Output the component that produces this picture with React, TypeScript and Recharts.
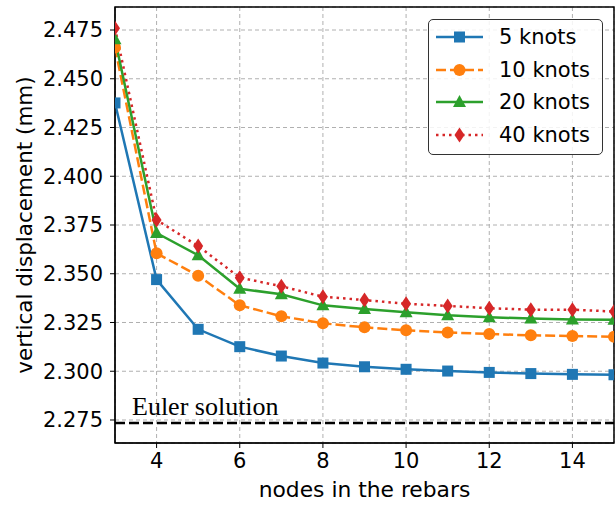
import React from "react";
import {
  LineChart,
  Line,
  XAxis,
  YAxis,
  CartesianGrid,
  ReferenceLine,
  ReferenceArea,
} from "recharts";

const nodes = [3, 4, 5, 6, 7, 8, 9, 10, 11, 12, 13, 14, 15];
const knots5 = [2.4376, 2.347, 2.3215, 2.3126, 2.3078, 2.3042, 2.3023, 2.301, 2.3001, 2.2994, 2.2988, 2.2984, 2.2982];
const knots10 = [2.466, 2.3605, 2.349, 2.3338, 2.3282, 2.3246, 2.3225, 2.321, 2.3199, 2.3191, 2.3184, 2.3181, 2.3177];
const knots20 = [2.4702, 2.3709, 2.3595, 2.3423, 2.3395, 2.3338, 2.3319, 2.3302, 2.3287, 2.3277, 2.327, 2.3266, 2.3264];
const knots40 = [2.4759, 2.3776, 2.3642, 2.348, 2.3436, 2.3382, 2.3365, 2.3346, 2.3335, 2.3323, 2.3316, 2.3316, 2.3306];
const eulerValue = 2.2735;

const xTicks = [4, 6, 8, 10, 12, 14];
const yTicks = [2.275, 2.3, 2.325, 2.35, 2.375, 2.4, 2.425, 2.45, 2.475];
const Y_MIN = 2.2632;
const Y_MAX = 2.4868;

const data = nodes.map((n, i) => ({
  n,
  k5: knots5[i],
  k10: knots10[i],
  k20: knots20[i],
  k40: knots40[i],
}));

const FONT = "'DejaVu Sans', sans-serif";

type Marker = "square" | "circle" | "triangle" | "diamond";

const SERIES = [
  { key: "k5", name: "5 knots", color: "#1f77b4", dash: undefined, marker: "square" as Marker },
  { key: "k10", name: "10 knots", color: "#ff7f0e", dash: "10 4", marker: "circle" as Marker },
  { key: "k20", name: "20 knots", color: "#2ca02c", dash: undefined, marker: "triangle" as Marker },
  { key: "k40", name: "40 knots", color: "#d62728", dash: "2.5 4", marker: "diamond" as Marker },
];

function markerShape(marker: Marker, cx: number, cy: number, color: string, key?: string) {
  if (marker === "square") {
    return <rect key={key} x={cx - 5.5} y={cy - 5.5} width={11} height={11} fill={color} />;
  }
  if (marker === "circle") {
    return <circle key={key} cx={cx} cy={cy} r={6} fill={color} />;
  }
  if (marker === "triangle") {
    return (
      <polygon
        key={key}
        points={`${cx},${cy - 7} ${cx - 6.5},${cy + 5} ${cx + 6.5},${cy + 5}`}
        fill={color}
      />
    );
  }
  return (
    <polygon
      key={key}
      points={`${cx},${cy - 7.5} ${cx + 5},${cy} ${cx},${cy + 7.5} ${cx - 5},${cy}`}
      fill={color}
    />
  );
}

function LegendBox() {
  return (
    <div
      style={{
        position: "absolute",
        left: 428,
        top: 19,
        width: 175,
        height: 136,
        border: "1.5px solid #333",
        borderRadius: 5,
        background: "rgba(255,255,255,0.85)",
        boxSizing: "border-box",
        paddingTop: 1,
        fontFamily: FONT,
        fontSize: 21,
      }}
    >
      {SERIES.map((s) => (
        <div key={s.key} style={{ display: "flex", alignItems: "center", height: 32.5 }}>
          <svg width={62} height={20} style={{ marginLeft: 6 }}>
            <line
              x1={1}
              y1={10}
              x2={48}
              y2={10}
              stroke={s.color}
              strokeWidth={2.5}
              strokeDasharray={s.dash}
            />
            {markerShape(s.marker, 24.5, 10, s.color)}
          </svg>
          <span style={{ marginLeft: 2, color: "#000" }}>{s.name}</span>
        </div>
      ))}
    </div>
  );
}

export default function App() {
  return (
    <div style={{ position: "absolute", left: 0, top: 0, width: 616, height: 505, background: "#fff" }}>
      <LineChart
        width={616}
        height={505}
        data={data}
        margin={{ top: 7, right: 2, bottom: 0, left: 0 }}
      >
        <CartesianGrid stroke="#b0b0b0" strokeDasharray="4 3" strokeWidth={1} />
        <XAxis
          dataKey="n"
          type="number"
          domain={[3, 15]}
          ticks={xTicks}
          allowDataOverflow
          height={62}
          tickSize={5}
          tickMargin={5}
          stroke="#000"
          tick={{ fill: "#000", fontSize: 21, fontFamily: FONT }}
          label={{
            content: ({ viewBox }: any) => (
              <text
                x={viewBox.x + viewBox.width / 2}
                y={497}
                textAnchor="middle"
                fill="#000"
                fontSize={21.8}
                fontFamily={FONT}
              >
                nodes in the rebars
              </text>
            ),
          }}
        />
        <YAxis
          type="number"
          domain={[Y_MIN, Y_MAX]}
          ticks={yTicks}
          allowDataOverflow
          width={115}
          tickSize={5}
          tickMargin={7}
          stroke="#000"
          tickFormatter={(v: number) => v.toFixed(3)}
          tick={{ fill: "#000", fontSize: 21, fontFamily: FONT }}
          label={{
            content: ({ viewBox }: any) => {
              const cy = viewBox.y + viewBox.height / 2;
              return (
                <text
                  x={32}
                  y={cy}
                  transform={`rotate(-90, 32, ${cy})`}
                  textAnchor="middle"
                  fill="#000"
                  fontSize={21.5}
                  fontFamily={FONT}
                >
                  vertical displacement (mm)
                </text>
              );
            },
          }}
        />
        <ReferenceLine
          y={eulerValue}
          stroke="#000"
          strokeWidth={2.5}
          strokeDasharray="10 4"
          label={{
            content: ({ viewBox }: any) => (
              <text
                x={viewBox.x + 17}
                y={viewBox.y - 8}
                fill="#000"
                fontSize={26}
                fontFamily="'Liberation Serif', 'Times New Roman', serif"
              >
                Euler solution
              </text>
            ),
          }}
        />
        {SERIES.map((s) => (
          <Line
            key={s.key}
            type="linear"
            dataKey={s.key}
            name={s.name}
            stroke={s.color}
            strokeWidth={2.5}
            strokeDasharray={s.dash}
            isAnimationActive={false}
            dot={(p: any) => markerShape(s.marker, p.cx, p.cy, s.color, `${s.key}-${p.index}`)}
            activeDot={false}
          />
        ))}
        <ReferenceArea
          x1={3}
          x2={15}
          y1={Y_MIN}
          y2={Y_MAX}
          fill="none"
          stroke="#000"
          strokeWidth={1.5}
          ifOverflow="visible"
        />
      </LineChart>
      <LegendBox />
    </div>
  );
}
